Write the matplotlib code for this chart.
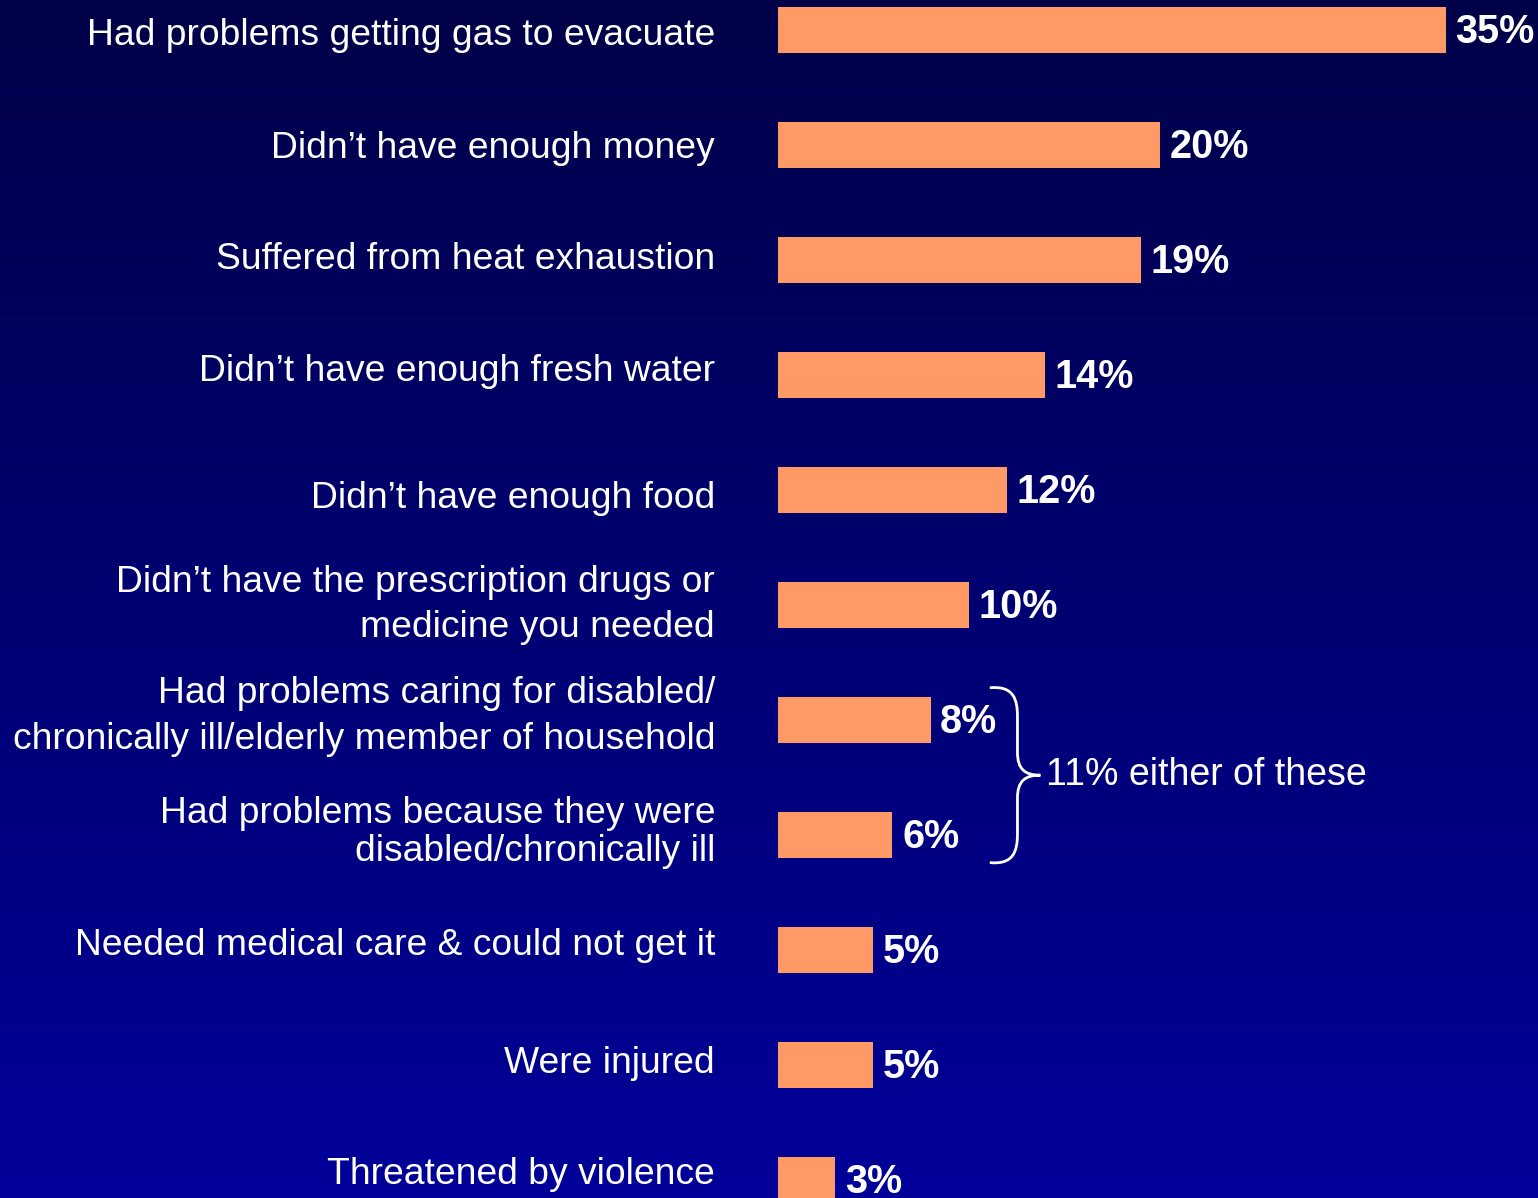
import numpy as np
import matplotlib
matplotlib.use("Agg")
import matplotlib.pyplot as plt
from matplotlib.path import Path
from matplotlib.patches import PathPatch

# data
labels = [
    "Had problems getting gas to evacuate",
    "Didn\u2019t have enough money",
    "Suffered from heat exhaustion",
    "Didn\u2019t have enough fresh water",
    "Didn\u2019t have enough food",
    "Didn\u2019t have the prescription drugs or\nmedicine you needed",
    "Had problems caring for disabled/\nchronically ill/elderly member of household",
    "Had problems because they were\ndisabled/chronically ill",
    "Needed medical care & could not get it",
    "Were injured",
    "Threatened by violence",
]
values = [35, 20, 19, 14, 12, 10, 8, 6, 5, 5, 3]
brace_text = "11% either of these"

# small vertical nudges of the category labels (in bar slots)
label_dy = [0.05, 0.03, 0.0, -0.03, 0.07, 0.0, -0.03, -0.02, -0.04, -0.01, -0.05]

W, H = 1538, 1198
fig = plt.figure(figsize=(W / 100, H / 100), dpi=100)

# background gradient
bg = fig.add_axes([0, 0, 1, 1], zorder=0)
grad = np.linspace(0, 1, 256).reshape(-1, 1)
top = np.array([0, 0, 0x48]) / 255
bot = np.array([0, 0, 0x99]) / 255
img = top + (bot - top) * grad[:, :, None]
bg.imshow(img, aspect="auto", extent=[0, 1, 0, 1], origin="upper")
bg.axis("off")

ax = fig.add_axes([0, 0, 1, 1], zorder=1)
ax.patch.set_alpha(0)
px = 19.08   # pixels per percent
x0 = 778     # pixel of zero
slot = 115.0
y0 = 30
ax.set_xlim(-x0 / px, (W - x0) / px)
ax.set_ylim((H - y0) / slot, -y0 / slot)
ax.axis("off")

ypos = np.arange(len(values))
ax.barh(ypos, values, height=0.4, color="#FF9966", linewidth=0)

font = ["Liberation Sans", "DejaVu Sans"]
for i, (lab, v) in enumerate(zip(labels, values)):
    ax.text(-3.3, i + label_dy[i], lab, ha="right", va="center", color="white",
            fontsize=26.8, family=font, linespacing=1.38 if i != 7 else 1.12)
    ax.text(v + 0.5, i + 0.02, f"{v}%", ha="left", va="center", color="white",
            fontsize=28.5, fontweight="bold", family=font)

# brace for rows 6 and 7
xl, xm, xt = 11.1, 12.55, 13.75
yt, yc, yb = 5.72, 6.48, 7.24
verts = [
    (xl, yt), (xm - 0.2, yt - 0.02), (xm, yt + 0.1), (xm, yt + 0.25),
    (xm, yc - 0.2),
    (xm, yc - 0.05), (xm + 0.4, yc), (xt, yc),
    (xm + 0.4, yc), (xm, yc + 0.05), (xm, yc + 0.2),
    (xm, yb - 0.25),
    (xm, yb - 0.1), (xm - 0.2, yb + 0.02), (xl, yb),
]
codes = [Path.MOVETO, Path.CURVE4, Path.CURVE4, Path.CURVE4,
         Path.LINETO,
         Path.CURVE4, Path.CURVE4, Path.CURVE4,
         Path.CURVE4, Path.CURVE4, Path.CURVE4,
         Path.LINETO,
         Path.CURVE4, Path.CURVE4, Path.CURVE4]
ax.add_patch(PathPatch(Path(verts, codes), facecolor="none", edgecolor="white",
                       linewidth=2))
ax.text(xt + 0.3, yc, brace_text, ha="left", va="center", color="white",
        fontsize=27, family=font)

fig.savefig("out.png", dpi=100)
